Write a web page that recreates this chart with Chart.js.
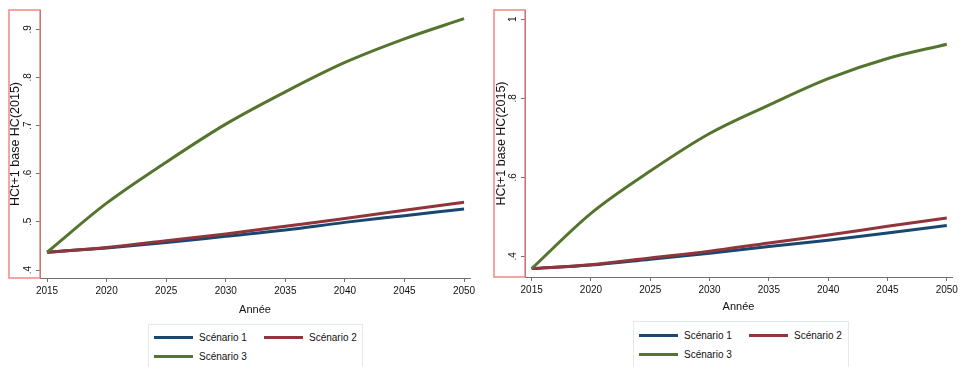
<!DOCTYPE html>
<html><head><meta charset="utf-8">
<script src="https://cdn.jsdelivr.net/npm/chart.js@4/dist/chart.umd.min.js"></script>
<style>
html,body{margin:0;padding:0;background:#fff;width:961px;height:367px;overflow:hidden;font-family:"Liberation Sans",Arial,sans-serif;}
.wrap{position:absolute;top:0;height:320px;}
.legend{position:absolute;border:1px solid #e2eaee;background:#fff;height:60px;box-sizing:border-box;}
.item{position:absolute;display:flex;align-items:center;font-size:10px;color:#111;white-space:nowrap;height:12px;}
.sw{width:39px;height:3px;margin-right:6px;}
</style></head><body>
<div class="wrap" style="left:0;width:480px"><canvas id="c1" width="480" height="320"></canvas></div>
<div class="wrap" style="left:480px;width:481px"><canvas id="c2" width="481" height="320"></canvas></div>
<div class="legend" id="l1" style="left:148px;top:324px;width:215px"></div>
<div class="legend" id="l2" style="left:633px;top:321px;width:216px"></div>
<script>
// ---- data ----
const years = [2015, 2020, 2025, 2030, 2035, 2040, 2045, 2050];
const seriesNames = ['Scénario 1', 'Scénario 2', 'Scénario 3'];
const seriesColors = ['#1a476f', '#90353b', '#55752f'];

// left panel
const leftScenario1 = [0.437, 0.446, 0.457, 0.470, 0.483, 0.499, 0.513, 0.527];
const leftScenario2 = [0.437, 0.447, 0.461, 0.475, 0.491, 0.507, 0.524, 0.541];
const leftScenario3 = [0.437, 0.539, 0.624, 0.703, 0.770, 0.831, 0.880, 0.922];

// right panel
const rightScenario1 = [0.369, 0.378, 0.393, 0.408, 0.425, 0.441, 0.459, 0.478];
const rightScenario2 = [0.369, 0.379, 0.396, 0.413, 0.434, 0.454, 0.476, 0.497];
const rightScenario3 = [0.369, 0.509, 0.616, 0.711, 0.783, 0.850, 0.901, 0.937];

// ticks
const xTickValues = [2015, 2020, 2025, 2030, 2035, 2040, 2045, 2050];
const leftYTickValues = [0.4, 0.5, 0.6, 0.7, 0.8, 0.9];
const leftYTickLabels = ['.4', '.5', '.6', '.7', '.8', '.9'];
const rightYTickValues = [0.4, 0.6, 0.8, 1.0];
const rightYTickLabels = ['.4', '.6', '.8', '1'];
const yAxisTitle = 'HCt+1 base HC(2015)';
const xAxisTitle = 'Année';

const FONT = '"Liberation Sans", Arial, sans-serif';
const AXIS_COLOR = '#707070';

const redBox = {
  id: 'redBox',
  afterDraw(chart) {
    const a = chart.chartArea, ctx = chart.ctx;
    ctx.save();
    ctx.strokeStyle = 'rgba(242,120,120,0.9)';
    ctx.lineWidth = 1.5;
    ctx.strokeRect(a.left - 31, a.top, 31, a.bottom - a.top);
    ctx.restore();
  }
};

function makeChart(canvasId, seriesList, g) {
  const datasets = seriesList.map((vals, i) => ({
    label: seriesNames[i],
    data: years.map((y, k) => ({x: y, y: vals[k]})),
    borderColor: seriesColors[i],
    backgroundColor: seriesColors[i],
    borderWidth: 3,
    pointRadius: 0,
    cubicInterpolationMode: 'monotone',
    order: 3 - i
  }));
  return new Chart(document.getElementById(canvasId), {
    type: 'line',
    data: {datasets},
    options: {
      responsive: false,
      animation: false,
      events: [],
      layout: {padding: {left: 0, top: g.top, right: g.right, bottom: 0}},
      plugins: {legend: {display: false}, tooltip: {enabled: false}},
      scales: {
        x: {
          type: 'linear', min: g.xMin, max: g.xMax,
          afterBuildTicks: s => { s.ticks = xTickValues.map(v => ({value: v})); },
          afterFit: s => { s.height = g.xHeight; },
          grid: {drawOnChartArea: false, drawTicks: true, tickLength: 4, color: AXIS_COLOR, lineWidth: 1},
          border: {display: true, color: AXIS_COLOR, width: 1},
          ticks: {font: {family: FONT, size: 10}, color: '#111', padding: 3, maxRotation: 0, minRotation: 0,
                  callback: v => String(v)},
          title: {display: true, text: xAxisTitle, font: {family: FONT, size: 11}, color: '#111',
                  padding: {top: 0, bottom: g.xTitlePad}}
        },
        y: {
          type: 'linear', min: g.yMin, max: g.yMax,
          afterBuildTicks: s => { s.ticks = g.yTicks.map(v => ({value: v})); },
          afterFit: s => { s.width = g.yWidth; },
          grid: {drawOnChartArea: false, drawTicks: true, tickLength: 4, color: AXIS_COLOR, lineWidth: 1},
          border: {display: true, color: AXIS_COLOR, width: 1},
          ticks: {font: {family: FONT, size: 10}, color: '#111', padding: 4, minRotation: 90, maxRotation: 90,
                  crossAlign: 'center',
                  callback: v => { const i = g.yTicks.findIndex(t => Math.abs(t - v) < 1e-9); return i >= 0 ? g.yLabels[i] : ''; }},
          title: {display: true, text: yAxisTitle, font: {family: FONT, size: 12.5}, color: '#111',
                  padding: {top: g.yTitlePad, bottom: 0}}
        }
      }
    },
    plugins: [redBox]
  });
}

makeChart('c1', [leftScenario1, leftScenario2, leftScenario3], {
  top: 8, right: 10, xHeight: 42, yWidth: 40, xTitlePad: 3.4, yTitlePad: 8.5,
  xMin: 2014.41, xMax: 2050.5, yMin: 0.3835, yMax: 0.940,
  yTicks: leftYTickValues, yLabels: leftYTickLabels
});
makeChart('c2', [rightScenario1, rightScenario2, rightScenario3], {
  top: 5, right: 7, xHeight: 43, yWidth: 45, xTitlePad: 6.4, yTitlePad: 14,
  xMin: 2014.44, xMax: 2050.44, yMin: 0.3478, yMax: 1.0236,
  yTicks: rightYTickValues, yLabels: rightYTickLabels
});

function buildLegend(id, rows) {
  const box = document.getElementById(id);
  const pos = [[5, rows[0]], [115, rows[0]], [5, rows[1]]];
  seriesNames.forEach((name, i) => {
    const it = document.createElement('div');
    it.className = 'item';
    it.style.left = pos[i][0] + 'px';
    it.style.top = (pos[i][1] - 6) + 'px';
    const sw = document.createElement('div');
    sw.className = 'sw';
    sw.style.background = seriesColors[i];
    const tx = document.createElement('span');
    tx.textContent = name;
    it.appendChild(sw); it.appendChild(tx);
    box.appendChild(it);
  });
}
buildLegend('l1', [12, 31]);
buildLegend('l2', [13, 32]);
</script>
</body></html>
